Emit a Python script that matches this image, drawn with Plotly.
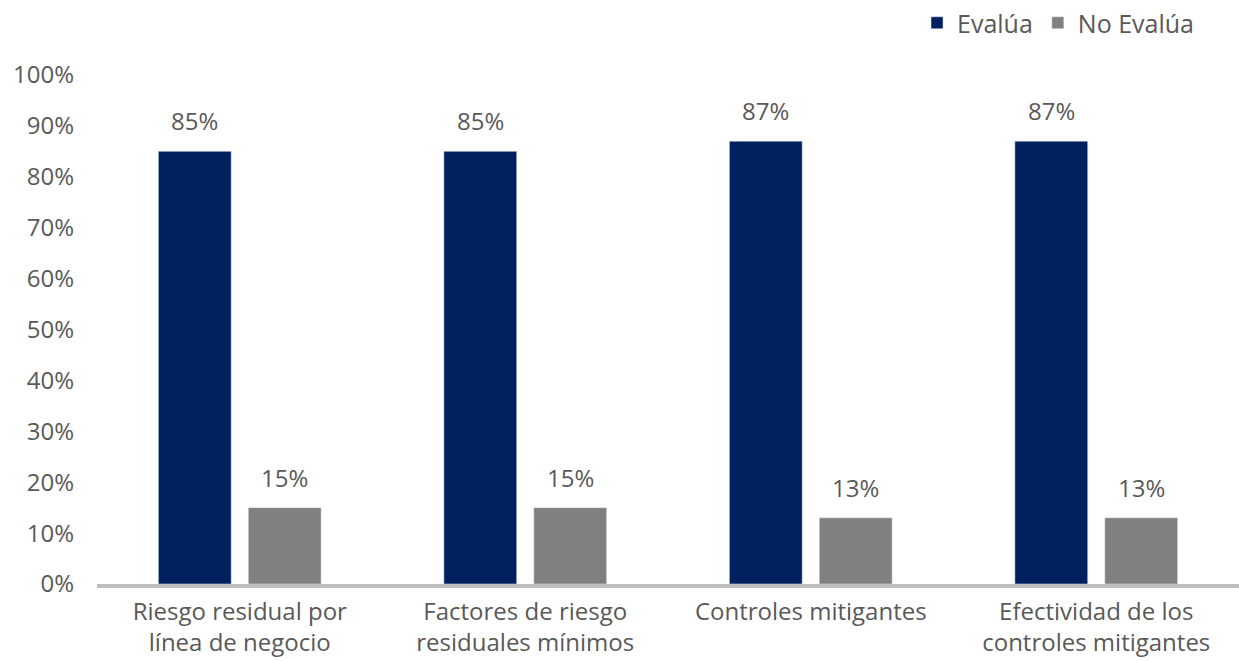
import plotly.graph_objects as go

# Categories (two-line labels) and series values in percent
categories = [
    "Riesgo residual por<br>línea de negocio",
    "Factores de riesgo<br>residuales mínimos",
    "Controles mitigantes",
    "Efectividad de los<br>controles mitigantes",
]
evalua = [85, 85, 87, 87]
no_evalua = [15, 15, 13, 13]
y_ticks = [0, 10, 20, 30, 40, 50, 60, 70, 80, 90, 100]
y_tick_labels = [f"{v}%" for v in y_ticks]

BLUE = "#002060"
GRAY = "#808080"
TEXT = "#595959"
FONT = "Open Sans"
FS = 24

fig = go.Figure()
fig.add_trace(go.Bar(name="Evalúa", x=categories, y=evalua, marker_color=BLUE))
fig.add_trace(go.Bar(name="No Evalúa", x=categories, y=no_evalua, marker_color=GRAY))

# Value labels sitting above each bar
annotations = []
for series, shift in ((evalua, -45), (no_evalua, 45)):
    for cat, val in zip(categories, series):
        annotations.append(dict(
            x=cat, y=val, xref="x", yref="y", text=f"{val}%",
            showarrow=False, xshift=shift, yshift=12, yanchor="bottom",
            font=dict(family=FONT, size=FS, color=TEXT),
        ))

fig.update_layout(
    width=1239, height=661,
    margin=dict(l=97, r=0, t=75, b=77),
    paper_bgcolor="white", plot_bgcolor="white",
    barmode="group", bargap=0.37, bargroupgap=0.19,
    font=dict(family=FONT, size=FS, color=TEXT),
    showlegend=True,
    legend=dict(
        orientation="h", x=0.965, xanchor="right", y=1.0, yref="container",
        yanchor="top", font=dict(family=FONT, size=FS + 1, color=TEXT),
        itemwidth=30, traceorder="normal",
    ),
    annotations=annotations,
)
fig.update_xaxes(
    showline=True, linecolor="#BFBFBF", linewidth=4, automargin=False,
    showgrid=False, ticks="", ticklabelstandoff=3,
    tickfont=dict(family=FONT, size=FS, color=TEXT),
)
fig.update_yaxes(
    range=[0, 100], tickvals=y_ticks, ticktext=y_tick_labels, automargin=False,
    showgrid=False, zeroline=False, showline=False, ticks="",
    ticklabelstandoff=22, tickfont=dict(family=FONT, size=FS, color=TEXT),
)

fig.write_html("out.html")
